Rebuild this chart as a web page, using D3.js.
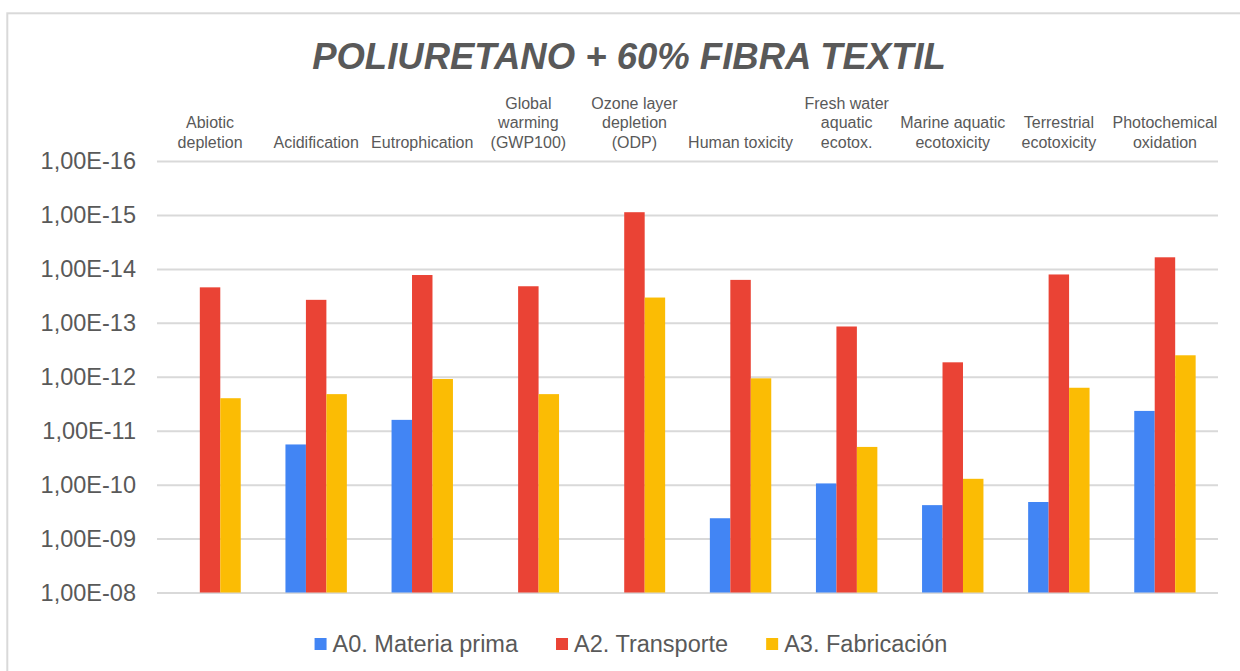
<!DOCTYPE html>
<html>
<head>
<meta charset="utf-8">
<script src="https://cdn.jsdelivr.net/npm/d3@7"></script>
<style>
  body { margin: 0; background: #fff; }
  text { font-family: "Liberation Sans", Arial, sans-serif; fill: #595959; }
</style>
</head>
<body>
<div class="chart"></div>
<script>
// Paramètres
const width = 1240;
const height = 671;
const plot = { left: 157, right: 1218, top: 161, bottom: 592.5 };

// Données
const categories = [
  "Abiotic depletion", "Acidification", "Eutrophication", "Global warming (GWP100)",
  "Ozone layer depletion (ODP)", "Human toxicity", "Fresh water aquatic ecotox.",
  "Marine aquatic ecotoxicity", "Terrestrial ecotoxicity", "Photochemical oxidation"
];
const categoryLines = [
  ["Abiotic", "depletion"],
  ["Acidification"],
  ["Eutrophication"],
  ["Global", "warming", "(GWP100)"],
  ["Ozone layer", "depletion", "(ODP)"],
  ["Human toxicity"],
  ["Fresh water", "aquatic", "ecotox."],
  ["Marine aquatic", "ecotoxicity"],
  ["Terrestrial", "ecotoxicity"],
  ["Photochemical", "oxidation"]
];
const seriesNames = ["A0. Materia prima", "A2. Transporte", "A3. Fabricación"];
const seriesColors = ["#4285f4", "#ea4335", "#fbbc04"];

const materiaPrima = [null, 1.8e-11, 6.3e-12, null, null, 4.2e-10, 9.5e-11, 2.4e-10, 2.1e-10, 4.3e-12];
const transporte   = [2.2e-14, 3.75e-14, 1.3e-14, 2.1e-14, 8.9e-16, 1.6e-14, 1.17e-13, 5.4e-13, 1.27e-14, 6.1e-15];
const fabricacion  = [2.5e-12, 2.1e-12, 1.1e-12, 2.1e-12, 3.4e-14, 1.07e-12, 2.0e-11, 7.8e-11, 1.6e-12, 4.0e-13];

const yTicks = [1e-16, 1e-15, 1e-14, 1e-13, 1e-12, 1e-11, 1e-10, 1e-9, 1e-8];

const series = [materiaPrima, transporte, fabricacion];

const svg = d3.select('.chart')
  .append('svg')
  .attr('width', width)
  .attr('height', height);

svg.append('rect')
  .attr('width', width).attr('height', height)
  .attr('fill', '#fff');

// cadre du graphique
svg.append('rect')
  .attr('x', 7.3).attr('y', 13.3)
  .attr('width', 1300).attr('height', 700)
  .attr('fill', 'none')
  .attr('stroke', '#d9d9d9')
  .attr('stroke-width', 2);

// échelles
const x = d3.scaleBand()
  .domain(categories)
  .range([plot.left, plot.right])
  .padding(0);

const groupWidth = 61.4;
const xInner = d3.scaleBand()
  .domain(seriesNames)
  .range([0, groupWidth]);

const y = d3.scaleLog()
  .domain([1e-8, 1e-16])
  .range([plot.bottom, plot.top]);

const fmt = d => "1,00E-" + String(-Math.round(Math.log10(d))).padStart(2, '0');

// axe vertical + grille
const yAxis = svg.append('g')
  .attr('transform', `translate(${plot.left}, 0)`)
  .call(d3.axisLeft(y).tickValues(yTicks).tickFormat(fmt).tickSize(-(plot.right - plot.left)).tickPadding(21))
  .call(g => g.select('.domain').remove());

yAxis.selectAll('.tick line')
  .attr('stroke', '#d9d9d9')
  .attr('stroke-width', 2);

yAxis.selectAll('.tick text')
  .attr('font-size', 23.5)
  .attr('fill', '#595959')
  .style('font-family', '"Liberation Sans", Arial, sans-serif');

// barres
const bars = svg.append('g');
series.forEach((values, i) => {
  bars.append('g')
    .attr('fill', seriesColors[i])
    .selectAll('rect')
    .data(values.map((v, j) => ({ cat: categories[j], v })).filter(d => d.v != null))
    .join('rect')
      .attr('x', d => x(d.cat) + (x.bandwidth() - groupWidth) / 2 + xInner(seriesNames[i]))
      .attr('width', xInner.bandwidth())
      .attr('y', d => y(d.v))
      .attr('height', d => y(1e-8) - y(d.v));
});

// étiquettes des catégories (en haut)
const lineH = 19.3;
const catLabels = svg.append('g')
  .attr('text-anchor', 'middle')
  .attr('font-size', 16);

catLabels.selectAll('text')
  .data(categoryLines)
  .join('text')
    .attr('transform', (d, i) => `translate(${x(categories[i]) + x.bandwidth() / 2}, 147.7)`)
    .each(function(lines) {
      const t = d3.select(this);
      lines.forEach((l, k) => {
        t.append('tspan')
          .attr('x', 0)
          .attr('y', -(lines.length - 1 - k) * lineH)
          .text(l);
      });
    });

// titre
svg.append('text')
  .attr('x', 629)
  .attr('y', 68.5)
  .attr('text-anchor', 'middle')
  .attr('font-size', 36.5)
  .attr('font-weight', 'bold')
  .attr('font-style', 'italic')
  .text('POLIURETANO + 60% FIBRA TEXTIL');

// légende
const legend = svg.append('g');
const items = legend.selectAll('g')
  .data(seriesNames)
  .join('g');

items.append('rect')
  .attr('width', 12).attr('height', 12)
  .attr('y', 638)
  .attr('fill', (d, i) => seriesColors[i]);

items.append('text')
  .attr('x', 18)
  .attr('y', 651.7)
  .attr('font-size', 23.5)
  .text(d => d);

let cursor = 0;
const offsets = [];
items.each(function() {
  const w = d3.select(this).select('text').node().getComputedTextLength();
  offsets.push(cursor);
  cursor += 18 + w + 38;
});
const total = cursor - 38;
const start = 631 - total / 2;
items.attr('transform', (d, i) => `translate(${start + offsets[i]}, 0)`);
</script>
</body>
</html>
